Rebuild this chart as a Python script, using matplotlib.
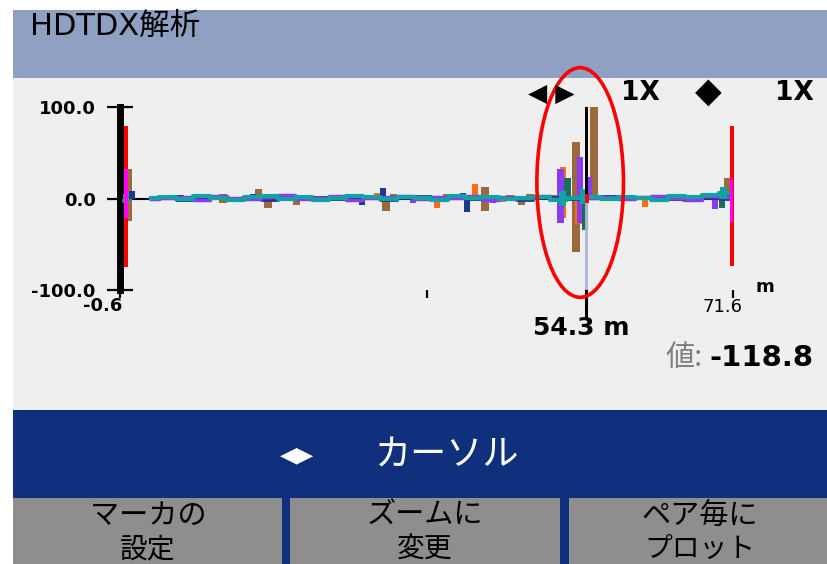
import matplotlib
matplotlib.use("Agg")
import matplotlib.pyplot as plt
from matplotlib.patches import Rectangle, Ellipse
import numpy as np

plt.rcParams["font.family"] = ["DejaVu Sans", "Noto Sans CJK JP"]
plt.rcParams["axes.unicode_minus"] = False
JP = ["Noto Sans CJK JP", "DejaVu Sans"]

W, H = 827, 564

# distance axis (m) and amplitude axis
x_min, x_max = -0.6, 71.6
y_ticks = [-100.0, 0.0, 100.0]
x_marks = [-0.6, 35.5, 71.6]
cursor_m = 54.3
cursor_val = -118.8

# low-level crosstalk along the cable, one value per 2 m step
band_m = np.arange(3.0, 72.0, 2.0)
teal_band = [1, 2, -1, 3, 1, -2, 2, 3, -1, 2, -2, 1, 3, 2, -1, 2, 1, -2,
             3, 1, 2, -1, 1, 2, -2, 1, 2, -1, 2, 1, -2, 3, 2, 4, 6]
purple_band = [-1, 1, 2, -2, 3, 1, -1, 2, 4, -1, 1, 3, -2, 1, 2, 3, -1, 2,
               1, 3, -2, 2, 1, 3, -1, 2, 1, 2, -1, 2, 3, 1, -2, 3, 2]
navy_band = [0, 2, -2, 1, 3, -1, 2, -2, 1, 3, 2, -1, 1, 2, -2, 1, 3, -1,
             2, -1, 1, 2, -2, 1, 2, -1, 1, 3, -1, 2, 1, -1, 2, 1, 0]

# individual reflections per pair (distance m, value)
brown_m = [0.4, 0.4, 6.5, 11.5, 11.5, 15.7, 16.8, 20.2, 24.5, 30.7, 31.6,
           37.9, 42.4, 42.4, 45.3, 46.7, 47.7, 50.6, 53.1, 53.1, 55.2, 58.5,
           63.2, 71.0]
brown_val = [32, -25, 4, 5, -5, 10, -10, -7, 4, -14, 5, 5, 13, -14, 4, -7,
             5, 4, 62, -59, 101, 3, 3, 22]
orange_m = [0.6, 8.0, 14.0, 29.7, 36.7, 41.2, 44.5, 51.6, 51.6, 53.4, 61.2,
            66.0]
orange_val = [5, -3, 3, 6, -10, 16, -4, 34, -21, -28, -9, -4]
purple_m = [18.6, 26.0, 33.9, 43.3, 51.3, 51.3, 53.6, 53.6, 54.6, 65.0,
            69.1, 69.5]
purple_val = [5, 4, -5, -5, 32, -27, 45, -27, 24, 4, 6, -12]
navy_m = [0.8, 6.5, 9.6, 15.1, 27.9, 27.9, 30.4, 39.8, 40.3, 57.1, 60.0]
navy_val = [8, 4, 3, 5, 4, -7, 12, 6, -15, 4, 3]
green_m = [0.0, 22.0, 52.1, 54.2, 70.3, 70.8]
green_val = [-5, 3, 22, -34, -10, 8]
teal_m = [0.1, 0.1, 51.5, 51.5, 53.9, 53.9, 70.5]
teal_val = [5, -5, 8, -8, 10, -6, 13]
black_m = [54.4]
black_val = [104]
red_m = [0.1, 0.1, 54.4, 54.4, 71.5, 71.5]
red_val = [79, -75, 5, -5, 79, -74]
magenta_m = [0.1, 0.1, 71.5, 71.5]
magenta_val = [32, -21, 21, -26]

C_HEADER = "#8fa0c2"
C_PANEL = "#efefef"
C_BLUE = "#10307e"
C_BUTTON = "#8e8e8e"


def fx(px):
    return px / W


def fy(py):
    return 1 - py / H


def box(fig, x0, y0, x1, y1, color):
    fig.add_artist(Rectangle((fx(x0), fy(y1)), (x1 - x0) / W, (y1 - y0) / H,
                             transform=fig.transFigure, color=color,
                             zorder=-5, lw=0))


fig = plt.figure(figsize=(W / 100, H / 100), dpi=100, facecolor="white")

# screen sections
box(fig, 13, 10, W, 78, C_HEADER)
box(fig, 13, 78, W, 410, C_PANEL)
box(fig, 13, 410, W, H, C_BLUE)
for x0, x1 in [(13, 282), (290, 560), (569, W)]:
    box(fig, x0, 498, x1, H, C_BUTTON)

ax = fig.add_axes([fx(120), fy(290), (733 - 120) / W, (290 - 107) / H])
ax.set_facecolor("none")
ax.set_xlim(x_min, x_max)
ax.set_ylim(-100, 100)

ax.axhline(0, color="black", lw=1.5, zorder=1)

ax.step(band_m, navy_band, where="mid", color="#1c3a8c", lw=2.0, zorder=3)
ax.step(band_m, purple_band, where="mid", color="#8a3cf2", lw=2.5, zorder=3)
ax.step(band_m, teal_band, where="mid", color="#11a3a3", lw=3.0, zorder=4)

ax.bar(brown_m, brown_val, width=0.9, color="#9a6a3c", zorder=2)
ax.bar(orange_m, orange_val, width=0.75, color="#ff6a12", zorder=2.2)
ax.bar(purple_m, purple_val, width=0.75, color="#8a3cf2", zorder=2.4)
ax.bar(green_m, green_val, width=0.75, color="#1d6e5a", zorder=2.6)
ax.bar(navy_m, navy_val, width=0.75, color="#1c3a8c", zorder=2.8)
ax.bar(teal_m, teal_val, width=0.75, color="#11a3a3", zorder=4.2)
ax.bar(black_m, black_val, width=0.35, color="black", zorder=4.4)
ax.bar(red_m, red_val, width=0.4, color="#ff0000", zorder=5, clip_on=False)
ax.bar(magenta_m, magenta_val, width=0.4, color="#ff00ff", zorder=5.2)

# cursor
ax.vlines(cursor_m, cursor_val, 0, color="#a9b6d8", lw=2, zorder=4.3)
ax.plot([cursor_m, cursor_m], [0, -0.137], transform=ax.get_xaxis_transform(),
        color="black", lw=2.2, clip_on=False)
ax.annotate(f"{cursor_m:.1f} m", xy=(cursor_m, 0),
            xycoords=ax.get_xaxis_transform(), xytext=(-5, -38),
            textcoords="offset pixels", ha="center", va="center",
            fontsize=18, fontweight="bold")

# highlight around the fault
ax.add_patch(Ellipse((53.6, 17.5), width=10.2, height=251, fill=False,
                     ec="#ff0000", lw=2.6, clip_on=False, zorder=6))

for side in ["top", "right", "bottom"]:
    ax.spines[side].set_visible(False)
ax.spines["left"].set_linewidth(5)
ax.spines["left"].set_zorder(1.5)
ax.set_yticks(y_ticks)
ax.set_yticklabels([f"{v:.1f}" for v in y_ticks])
ax.tick_params(axis="y", direction="inout", length=19, width=1.6,
               labelsize=13, pad=8)
for lbl in ax.get_yticklabels():
    lbl.set_fontweight("bold")
ax.set_xticks(x_marks)
ax.set_xticklabels([])
ax.tick_params(axis="x", direction="out", length=6, width=1.6)

xt = ax.get_xaxis_transform()
ax.annotate(f"{x_min:.1f}", xy=(x_min, 0), xycoords=xt, xytext=(-17, -16),
            textcoords="offset pixels", ha="center", va="center",
            fontsize=13, fontweight="bold")
ax.annotate(f"{x_max:.1f}", xy=(x_max, 0), xycoords=xt, xytext=(-11, -17),
            textcoords="offset pixels", ha="center", va="center", fontsize=13)
ax.annotate("m", xy=(x_max, 0), xycoords=xt, xytext=(32, 3),
            textcoords="offset pixels", ha="center", va="center",
            fontsize=13, fontweight="bold")

# header and scale indicators
fig.text(fx(30), fy(26), "HDTDX解析", fontsize=22, ha="left", va="center")
fig.text(fx(551), fy(94), "◀ ▶", fontsize=18, ha="center", va="center")
fig.text(fx(640), fy(93), "1X", fontsize=19, fontweight="bold",
         ha="center", va="center")
fig.text(fx(708), fy(92), "◆", fontsize=25, ha="center", va="center")
fig.text(fx(775), fy(93), "1X", fontsize=19, fontweight="bold",
         ha="left", va="center")

# cursor value readout
val_txt = fig.text(fx(813), fy(358), f"{cursor_val:.1f}", fontsize=21,
                   fontweight="bold", ha="right", va="center")
bb = val_txt.get_window_extent(renderer=fig.canvas.get_renderer())
fig.text(fx(bb.x0 - 6), fy(358), "値:", fontsize=21, color="#808080",
         ha="right", va="center", family=JP)

# soft keys
fig.text(fx(297), fy(455), "◀▶", fontsize=16, color="white",
         ha="center", va="center")
fig.text(fx(446), fy(455), "カーソル", fontsize=26, color="white",
         ha="center", va="center", family=JP)
buttons = [(148, "マーカの", "設定"), (425, "ズームに", "変更"),
           (700, "ペア毎に", "プロット")]
for cx, line1, line2 in buttons:
    fig.text(fx(cx), fy(516), line1, fontsize=21, ha="center", va="center",
             family=JP)
    fig.text(fx(cx), fy(549), line2, fontsize=20, ha="center", va="center",
             family=JP)

fig.savefig("out.png", dpi=100)
